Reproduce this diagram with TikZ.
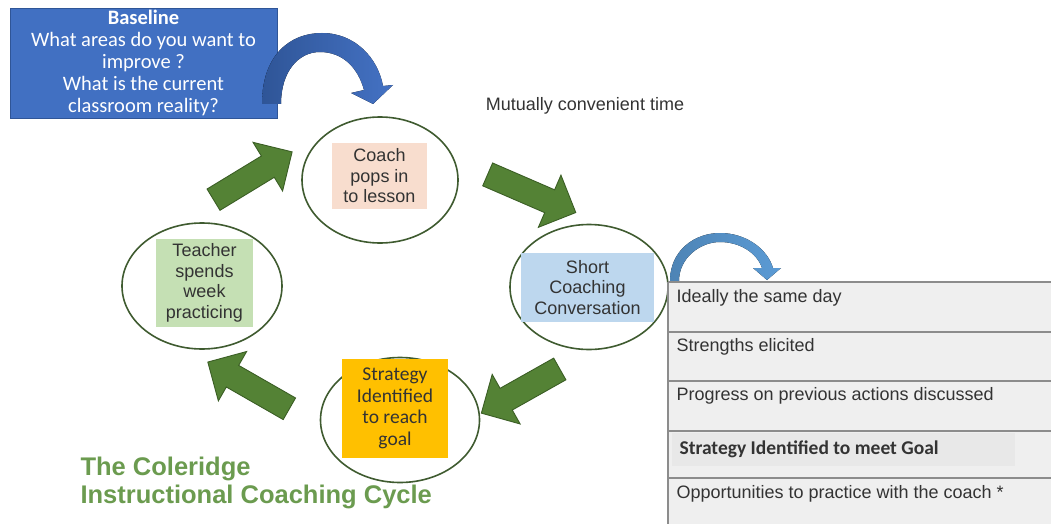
\documentclass[tikz,border=0pt]{standalone}
\usepackage{fontspec}
\setmainfont{Liberation Sans}
\newfontfamily\calibri{Carlito}
\usetikzlibrary{shapes.geometric, shapes.arrows}
\definecolor{basebl}{HTML}{4170C2}
\definecolor{curvedark}{HTML}{2F5597}
\definecolor{curvemid}{HTML}{4472C4}
\definecolor{curvelight}{HTML}{5B9BD5}
\definecolor{ringgreen}{HTML}{3F5B30}
\definecolor{arrowgreen}{HTML}{548235}
\definecolor{arrowedge}{HTML}{3B5E25}
\definecolor{peach}{HTML}{F8DDCE}
\definecolor{skyblue}{HTML}{BDD7EE}
\definecolor{sage}{HTML}{C5E0B4}
\definecolor{amber}{HTML}{FFC000}
\definecolor{textgrey}{HTML}{333333}
\definecolor{rowgrey}{HTML}{EFEFEF}
\definecolor{rowline}{HTML}{8C8C8C}
\definecolor{titlegreen}{HTML}{6B9B4F}

\tikzset{
	stage/.style={ellipse, draw=ringgreen, line width=1.6pt, inner sep=0pt},
	stagebox/.style={inner sep=0pt, align=center, text=textgrey, font=\fontsize{18}{20.5}\selectfont},
	cyclearrow/.style={single arrow, draw=arrowedge, fill=arrowgreen, line width=0.9pt, inner xsep=0pt, inner ysep=12pt, single arrow head extend=16pt},
	rowtext/.style={anchor=west, text=textgrey, font=\fontsize{18}{20}\selectfont},
}

\begin{document}
\begin{tikzpicture}[x=1pt, y=1pt]
	\useasboundingbox (0, 0) rectangle (1051, -524);

	% baseline box and its arrow
	\node[fill=basebl, draw=curvedark, minimum width=267pt, minimum height=110pt, inner sep=0pt, align=center, text=white, font=\calibri\fontsize{20.5}{22}\selectfont] (baseline) at (143.5, -63) {\textbf{Baseline}\\What areas do you want to\\improve ?\\What is the current\\classroom reality?};
	\fill[left color=curvedark, right color=curvemid] (262, -104) .. controls (262, -55) and (290, -33) .. (322, -33) .. controls (355, -33) and (378, -58) .. (383, -86) -- (393, -85) -- (373, -104) -- (351, -93) -- (364, -90) .. controls (358, -68) and (343, -52) .. (320, -52) .. controls (298, -52) and (281, -72) .. (281, -104) -- cycle;

	\node[text=textgrey, font=\fontsize{18}{20}\selectfont] (timing) at (585, -106) {Mutually convenient time};

	% cycle stages
	\node[stage, minimum width=156pt, minimum height=126pt] (coach) at (380, -180) {};
	\node[stage, minimum width=158pt, minimum height=125pt] (short) at (589, -287) {};
	\node[stage, minimum width=160pt, minimum height=126pt] (teacher) at (202, -286) {};
	\node[stage, minimum width=159pt, minimum height=125pt] (strategy) at (400, -420) {};

	\node[stagebox, fill=peach, minimum width=95pt, minimum height=66pt] (coachbox) at (379.5, -176) {Coach\\pops in\\to lesson};
	\node[stagebox, fill=skyblue, minimum width=133pt, minimum height=69pt] (shortbox) at (587.5, -287.5) {Short\\Coaching\\Conversation};
	\node[stagebox, fill=sage, minimum width=97pt, minimum height=88pt] (teacherbox) at (204.5, -283) {Teacher\\spends\\week\\practicing};
	\node[stagebox, fill=amber, minimum width=106pt, minimum height=99pt, font=\calibri\fontsize{19.5}{21.5}\selectfont] (strategybox) at (395, -408.5) {Strategy\\Identified\\to reach\\goal};

	% arrows between stages
	\node[cyclearrow, minimum height=92pt, rotate=31.3] (teachertocoach) at (247.5, -179) {};
	\node[cyclearrow, minimum height=96pt, rotate=-23.4] (coachtoshort) at (526, -191) {};
	\node[cyclearrow, minimum height=90pt, rotate=209.4] (shorttostrategy) at (526, -388) {};
	\node[cyclearrow, minimum height=94pt, rotate=150.2] (strategytoteacher) at (254, -388.5) {};

	% small arrow into the list
	\fill[left color=curvelight!85!black, right color=curvelight] (670, -281) .. controls (670, -250) and (695, -233) .. (720, -233) .. controls (745, -233) and (767, -248) .. (773, -268) -- (781, -268) -- (767, -280) -- (753, -268) -- (762, -268) .. controls (757, -253) and (740, -242) .. (720, -242) .. controls (700, -242) and (679, -258) .. (679, -281) -- cycle;

	% list of conversation points
	\fill[rowgrey] (668, -282) rectangle (1051, -524);
	\fill[black!9] (672, -433) rectangle (1015, -466);
	\foreach \y in {282, 332, 381, 431, 478}
		\draw[rowline, line width=1.4pt] (668, -\y) -- (1051, -\y);
	\draw[rowline, line width=1.4pt] (668, -282) -- (668, -524);
	\node[rowtext] (sameday) at (673, -298) {Ideally the same day};
	\node[rowtext] (strengths) at (673, -347) {Strengths elicited};
	\node[rowtext] (progress) at (673, -396) {Progress on previous actions discussed};
	\node[rowtext, font=\calibri\bfseries\fontsize{19.5}{21}\selectfont] (goal) at (676, -449) {Strategy Identified to meet Goal};
	\node[rowtext] (practice) at (673, -494) {Opportunities to practice with the coach *};

	% title
	\node[anchor=base west, text=titlegreen, font=\bfseries\fontsize{25.5}{28}\selectfont] (titleone) at (77, -475) {The Coleridge};
	\node[anchor=base west, text=titlegreen, font=\bfseries\fontsize{25.5}{28}\selectfont] (titletwo) at (77, -503) {Instructional Coaching Cycle};
\end{tikzpicture}
\end{document}
